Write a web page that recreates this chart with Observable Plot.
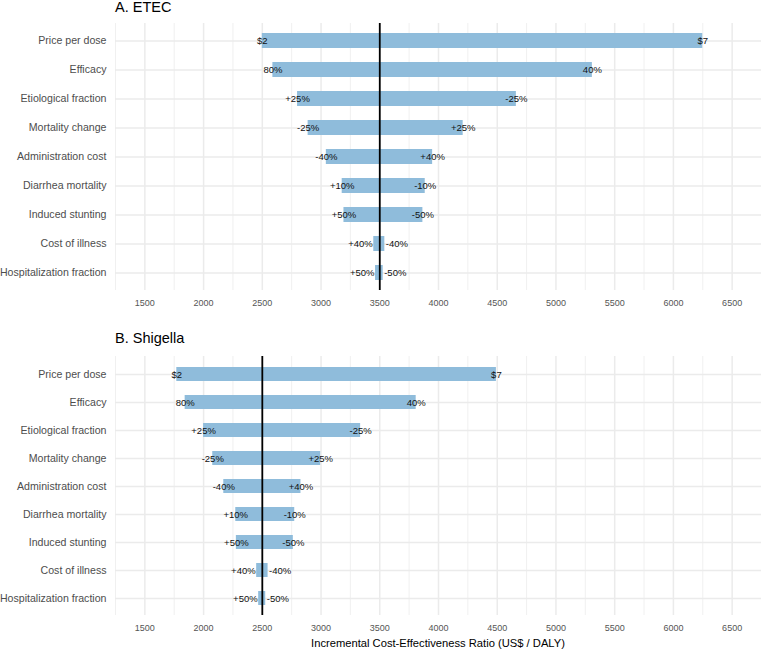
<!DOCTYPE html>
<html>
<head>
<meta charset="utf-8">
<script src="https://cdn.jsdelivr.net/npm/d3@7"></script>
<script src="https://cdn.jsdelivr.net/npm/@observablehq/plot@0.6"></script>
<style>
  html, body { margin: 0; padding: 0; background: #fff; }
  #wrap { position: relative; width: 761px; height: 651px; overflow: hidden; font-family: "Liberation Sans", Arial, sans-serif; }
  #wrap > svg, #wrap > div { position: absolute; left: 0; }
</style>
</head>
<body>
<div id="wrap"></div>
<script>
const categories = ["Price per dose", "Efficacy", "Etiological fraction", "Mortality change",
  "Administration cost", "Diarrhea mortality", "Induced stunting", "Cost of illness", "Hospitalization fraction"];
const lowLabels  = ["$2", "80%", "+25%", "-25%", "-40%", "+10%", "+50%", "+40%", "+50%"];
const highLabels = ["$7", "40%", "-25%", "+25%", "+40%", "-10%", "-50%", "-40%", "-50%"];

const etecBase = 3500;
const etecLow  = [2500, 2590, 2800, 2890, 3045, 3180, 3195, 3449, 3464];
const etecHigh = [6250, 5310, 4663, 4210, 3950, 3887, 3867, 3543, 3529];

const shigBase = 2500;
const shigLow  = [1772, 1843, 2000, 2078, 2172, 2274, 2279, 2452, 2469];
const shigHigh = [4493, 3810, 3337, 2997, 2829, 2776, 2764, 2549, 2529];

const majorTicks = [1500, 2000, 2500, 3000, 3500, 4000, 4500, 5000, 5500, 6000, 6500];
const minorTicks = [1250, 1750, 2250, 2750, 3250, 3750, 4250, 4750, 5250, 5750, 6250, 6750];

const panelTitles = ["A. ETEC", "B. Shigella"];
const xTitle = "Incremental Cost-Effectiveness Ratio (US$ / DALY)";

const FONT = "Liberation Sans, Arial, sans-serif";

function panel(low, high, base, height, mt, mb) {
  const rows = categories.map((c, i) => ({
    c, lo: low[i], hi: high[i], ll: lowLabels[i], hl: highLabels[i],
    narrow: high[i] - low[i] < 150
  }));
  const wide = rows.filter(d => !d.narrow);
  const narrow = rows.filter(d => d.narrow);
  return Plot.plot({
    width: 761, height,
    marginLeft: 115, marginRight: 0, marginTop: mt, marginBottom: mb,
    style: { fontFamily: FONT, background: "transparent", overflow: "visible" },
    x: { domain: [1250, 6750] },
    y: { domain: categories, paddingInner: 0.5, paddingOuter: 0.35 },
    marks: [
      Plot.ruleX(minorTicks, { stroke: "#ececec", strokeWidth: 0.8 }),
      Plot.ruleX(majorTicks, { stroke: "#ebebeb", strokeWidth: 1.5 }),
      Plot.ruleY(categories, { y: d => d, stroke: "#ebebeb", strokeWidth: 1.5 }),
      Plot.barX(rows, { y: "c", x1: "lo", x2: "hi", fill: "#8fbcdb" }),
      Plot.ruleX([base], { stroke: "#000", strokeWidth: 1.8 }),
      Plot.text(wide, { x: "lo", y: "c", text: "ll", fontSize: 9.5, fill: "#111" }),
      Plot.text(wide, { x: "hi", y: "c", text: "hl", fontSize: 9.5, fill: "#111" }),
      Plot.text(narrow, { x: "lo", y: "c", text: "ll", fontSize: 9.5, fill: "#111", textAnchor: "end", dx: -1 }),
      Plot.text(narrow, { x: "hi", y: "c", text: "hl", fontSize: 9.5, fill: "#111", textAnchor: "start", dx: 1 }),
      Plot.axisX(majorTicks, { tickSize: 0, tickPadding: 9, fontSize: 9, fill: "#555", tickFormat: d3.format("d"), label: null }),
      Plot.axisY({ tickSize: 0, tickPadding: 9, fontSize: 10.6, fill: "#4d4d4d", label: null })
    ]
  });
}

const wrap = document.getElementById("wrap");

const a = panel(etecLow, etecHigh, etecBase, 312, 23, 22);
a.style.top = "0px";
a.style.position = "absolute";
wrap.appendChild(a);

const b = panel(shigLow, shigHigh, shigBase, 331, 36, 36);
b.style.top = "320px";
b.style.position = "absolute";
wrap.appendChild(b);

// overlay with titles
const ov = d3.create("svg").attr("width", 761).attr("height", 651)
  .style("position", "absolute").style("top", "0px").style("left", "0px")
  .style("font-family", FONT).style("pointer-events", "none");
ov.append("text").attr("x", 115).attr("y", 12).attr("font-size", 14.5).attr("fill", "#000").text(panelTitles[0]);
ov.append("text").attr("x", 115).attr("y", 343).attr("font-size", 14.5).attr("fill", "#000").text(panelTitles[1]);
ov.append("text").attr("x", 438).attr("y", 647).attr("font-size", 11.2).attr("fill", "#000")
  .attr("text-anchor", "middle").text(xTitle);
wrap.appendChild(ov.node());
</script>
</body>
</html>
